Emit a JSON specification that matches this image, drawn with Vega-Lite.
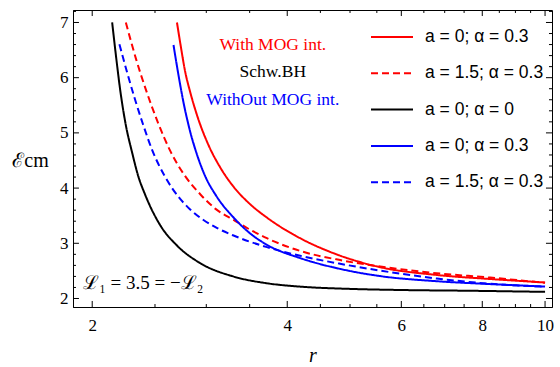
{
  "$schema": "https://vega.github.io/schema/vega-lite/v6.json",
  "width": 479,
  "height": 297,
  "autosize": {"type": "none"},
  "padding": {"left": 73, "top": 10, "right": 8, "bottom": 60},
  "background": "white",
  "config": {
    "view": {"stroke": "black", "strokeWidth": 1},
    "axis": {"grid": false, "domainColor": "black", "labelColor": "black", "titleColor": "black", "labelFont": "Liberation Serif", "labelFontSize": 17, "labelOverlap": false},
    "legend": {"orient": "none", "legendX": 297, "legendY": 5, "title": null, "symbolType": "stroke", "symbolSize": 1764, "symbolStrokeWidth": 2, "labelOffset": 11, "labelFont": "Liberation Sans", "labelFontSize": 17.5, "labelColor": "black", "rowPadding": 5.3}
  },
  "datasets": {
    "xticks": [
      {"t": 2, "kind": "major"}, {"t": 2.5, "kind": "minor"}, {"t": 3, "kind": "minor"}, {"t": 3.5, "kind": "minor"},
      {"t": 4, "kind": "major"}, {"t": 4.5, "kind": "minor"}, {"t": 5, "kind": "minor"}, {"t": 5.5, "kind": "minor"},
      {"t": 6, "kind": "major"}, {"t": 6.5, "kind": "minor"}, {"t": 7, "kind": "minor"}, {"t": 7.5, "kind": "minor"},
      {"t": 8, "kind": "major"}, {"t": 8.5, "kind": "minor"}, {"t": 9, "kind": "minor"}, {"t": 9.5, "kind": "minor"},
      {"t": 10, "kind": "major"}
    ],
    "yticks": [
      {"t": 2, "kind": "major"}, {"t": 2.2, "kind": "minor"}, {"t": 2.4, "kind": "minor"}, {"t": 2.6, "kind": "minor"}, {"t": 2.8, "kind": "minor"},
      {"t": 3, "kind": "major"}, {"t": 3.2, "kind": "minor"}, {"t": 3.4, "kind": "minor"}, {"t": 3.6, "kind": "minor"}, {"t": 3.8, "kind": "minor"},
      {"t": 4, "kind": "major"}, {"t": 4.2, "kind": "minor"}, {"t": 4.4, "kind": "minor"}, {"t": 4.6, "kind": "minor"}, {"t": 4.8, "kind": "minor"},
      {"t": 5, "kind": "major"}, {"t": 5.2, "kind": "minor"}, {"t": 5.4, "kind": "minor"}, {"t": 5.6, "kind": "minor"}, {"t": 5.8, "kind": "minor"},
      {"t": 6, "kind": "major"}, {"t": 6.2, "kind": "minor"}, {"t": 6.4, "kind": "minor"}, {"t": 6.6, "kind": "minor"}, {"t": 6.8, "kind": "minor"},
      {"t": 7, "kind": "major"}, {"t": 7.2, "kind": "minor"}
    ],
    "curves": [
      {"series": "k0", "r": 2.147, "E": 7.0},
      {"series": "k0", "r": 2.178, "E": 6.36},
      {"series": "k0", "r": 2.209, "E": 5.78},
      {"series": "k0", "r": 2.253, "E": 5.15},
      {"series": "k0", "r": 2.303, "E": 4.66},
      {"series": "k0", "r": 2.355, "E": 4.22},
      {"series": "k0", "r": 2.414, "E": 3.88},
      {"series": "k0", "r": 2.546, "E": 3.33},
      {"series": "k0", "r": 2.703, "E": 2.96},
      {"series": "k0", "r": 2.936, "E": 2.64},
      {"series": "k0", "r": 3.301, "E": 2.4},
      {"series": "k0", "r": 3.725, "E": 2.275},
      {"series": "k0", "r": 4.188, "E": 2.215},
      {"series": "k0", "r": 5.0, "E": 2.174},
      {"series": "k0", "r": 5.974, "E": 2.154},
      {"series": "k0", "r": 7.66, "E": 2.14},
      {"series": "k0", "r": 10.0, "E": 2.12},

      {"series": "r15", "r": 2.254, "E": 7.0},
      {"series": "r15", "r": 2.338, "E": 6.332},
      {"series": "r15", "r": 2.429, "E": 5.73},
      {"series": "r15", "r": 2.528, "E": 5.178},
      {"series": "r15", "r": 2.638, "E": 4.678},
      {"series": "r15", "r": 2.783, "E": 4.216},
      {"series": "r15", "r": 2.936, "E": 3.889},
      {"series": "r15", "r": 3.108, "E": 3.614},
      {"series": "r15", "r": 3.305, "E": 3.426},
      {"series": "r15", "r": 3.506, "E": 3.245},
      {"series": "r15", "r": 3.721, "E": 3.092},
      {"series": "r15", "r": 4.188, "E": 2.862},
      {"series": "r15", "r": 4.827, "E": 2.696},
      {"series": "r15", "r": 5.566, "E": 2.58},
      {"series": "r15", "r": 6.806, "E": 2.457},
      {"series": "r15", "r": 8.227, "E": 2.379},
      {"series": "r15", "r": 10.0, "E": 2.284},

      {"series": "b15", "r": 2.203, "E": 6.605},
      {"series": "b15", "r": 2.265, "E": 6.089},
      {"series": "b15", "r": 2.33, "E": 5.596},
      {"series": "b15", "r": 2.397, "E": 5.147},
      {"series": "b15", "r": 2.472, "E": 4.705},
      {"series": "b15", "r": 2.593, "E": 4.199},
      {"series": "b15", "r": 2.734, "E": 3.804},
      {"series": "b15", "r": 2.833, "E": 3.614},
      {"series": "b15", "r": 2.97, "E": 3.422},
      {"series": "b15", "r": 3.119, "E": 3.274},
      {"series": "b15", "r": 3.305, "E": 3.141},
      {"series": "b15", "r": 3.506, "E": 3.027},
      {"series": "b15", "r": 3.721, "E": 2.931},
      {"series": "b15", "r": 4.188, "E": 2.774},
      {"series": "b15", "r": 4.827, "E": 2.629},
      {"series": "b15", "r": 5.566, "E": 2.505},
      {"series": "b15", "r": 6.806, "E": 2.362},
      {"series": "b15", "r": 8.227, "E": 2.266},
      {"series": "b15", "r": 10.0, "E": 2.216},

      {"series": "b0", "r": 2.67, "E": 6.592},
      {"series": "b0", "r": 2.716, "E": 6.065},
      {"series": "b0", "r": 2.766, "E": 5.556},
      {"series": "b0", "r": 2.833, "E": 5.022},
      {"series": "b0", "r": 2.902, "E": 4.609},
      {"series": "b0", "r": 2.988, "E": 4.217},
      {"series": "b0", "r": 3.108, "E": 3.859},
      {"series": "b0", "r": 3.305, "E": 3.467},
      {"series": "b0", "r": 3.506, "E": 3.179},
      {"series": "b0", "r": 3.721, "E": 2.973},
      {"series": "b0", "r": 4.188, "E": 2.732},
      {"series": "b0", "r": 4.827, "E": 2.536},
      {"series": "b0", "r": 5.566, "E": 2.406},
      {"series": "b0", "r": 6.806, "E": 2.313},
      {"series": "b0", "r": 8.227, "E": 2.261},
      {"series": "b0", "r": 10.0, "E": 2.216},

      {"series": "r0", "r": 2.703, "E": 7.0},
      {"series": "r0", "r": 2.741, "E": 6.556},
      {"series": "r0", "r": 2.783, "E": 6.109},
      {"series": "r0", "r": 2.833, "E": 5.741},
      {"series": "r0", "r": 2.902, "E": 5.324},
      {"series": "r0", "r": 3.024, "E": 4.777},
      {"series": "r0", "r": 3.152, "E": 4.375},
      {"series": "r0", "r": 3.305, "E": 4.025},
      {"series": "r0", "r": 3.506, "E": 3.708},
      {"series": "r0", "r": 3.721, "E": 3.466},
      {"series": "r0", "r": 4.188, "E": 3.092},
      {"series": "r0", "r": 4.714, "E": 2.821},
      {"series": "r0", "r": 5.566, "E": 2.567},
      {"series": "r0", "r": 6.806, "E": 2.426},
      {"series": "r0", "r": 8.227, "E": 2.353},
      {"series": "r0", "r": 10.0, "E": 2.29}
    ]
  },
  "layer": [
    {
      "data": {"name": "curves"},
      "mark": {"type": "line", "strokeWidth": 2, "interpolate": "monotone"},
      "encoding": {
        "x": {
          "field": "r", "type": "quantitative",
          "scale": {"type": "log", "domain": [1.868, 10.25], "nice": false, "zero": false},
          "axis": {
            "orient": "bottom",
            "values": [2, 4, 6, 8, 10],
            "labelExpr": "'' + datum.value",
            "ticks": false,
            "labelPadding": 10,
            "title": "r",
            "titleFont": "Liberation Serif",
            "titleFontStyle": "italic",
            "titleFontWeight": "normal",
            "titleFontSize": 20,
            "titleBaseline": "middle",
            "titleY": 48
          }
        },
        "y": {
          "field": "E", "type": "quantitative",
          "scale": {"domain": [1.846, 7.226], "nice": false, "zero": false},
          "axis": {
            "orient": "left",
            "values": [2, 3, 4, 5, 6, 7],
            "labelExpr": "'' + datum.value",
            "ticks": false,
            "labelPadding": 5,
            "title": "ℰcm",
            "titleAngle": 0,
            "titleFont": "Liberation Serif",
            "titleFontWeight": "normal",
            "titleFontSize": 20,
            "titleAlign": "center",
            "titleBaseline": "middle",
            "titleX": -43,
            "titleY": 150
          }
        },
        "color": {
          "field": "series", "type": "nominal",
          "scale": {"domain": ["r0", "r15", "k0", "b0", "b15"], "range": ["#ff0000", "#ff0000", "#000000", "#0000ff", "#0000ff"]},
          "legend": {"labelExpr": "datum.label == 'r0' ? 'a = 0; α = 0.3' : datum.label == 'r15' ? 'a = 1.5; α = 0.3' : datum.label == 'k0' ? 'a = 0; α = 0' : datum.label == 'b0' ? 'a = 0; α = 0.3' : 'a = 1.5; α = 0.3'"}
        },
        "strokeDash": {
          "field": "series", "type": "nominal",
          "scale": {"domain": ["r0", "r15", "k0", "b0", "b15"], "range": [[1, 0], [7, 4], [1, 0], [1, 0], [7, 4]]},
          "legend": {"labelExpr": "datum.label == 'r0' ? 'a = 0; α = 0.3' : datum.label == 'r15' ? 'a = 1.5; α = 0.3' : datum.label == 'k0' ? 'a = 0; α = 0' : datum.label == 'b0' ? 'a = 0; α = 0.3' : 'a = 1.5; α = 0.3'"}
        }
      }
    },
    {
      "data": {"name": "xticks"},
      "transform": [{"filter": "datum.kind == 'major'"}],
      "mark": {"type": "rule", "color": "black", "strokeWidth": 1},
      "encoding": {
        "x": {"field": "t", "type": "quantitative", "axis": null},
        "y": {"datum": 1.846, "type": "quantitative", "axis": null},
        "y2": {"datum": 1.955}
      }
    },
    {
      "data": {"name": "xticks"},
      "transform": [{"filter": "datum.kind == 'minor'"}],
      "mark": {"type": "rule", "color": "black", "strokeWidth": 1},
      "encoding": {
        "x": {"field": "t", "type": "quantitative", "axis": null},
        "y": {"datum": 1.846, "type": "quantitative", "axis": null},
        "y2": {"datum": 1.9}
      }
    },
    {
      "data": {"name": "xticks"},
      "transform": [{"filter": "datum.kind == 'major'"}],
      "mark": {"type": "rule", "color": "black", "strokeWidth": 1},
      "encoding": {
        "x": {"field": "t", "type": "quantitative", "axis": null},
        "y": {"datum": 7.226, "type": "quantitative", "axis": null},
        "y2": {"datum": 7.117}
      }
    },
    {
      "data": {"name": "xticks"},
      "transform": [{"filter": "datum.kind == 'minor'"}],
      "mark": {"type": "rule", "color": "black", "strokeWidth": 1},
      "encoding": {
        "x": {"field": "t", "type": "quantitative", "axis": null},
        "y": {"datum": 7.226, "type": "quantitative", "axis": null},
        "y2": {"datum": 7.172}
      }
    },
    {
      "data": {"name": "yticks"},
      "transform": [{"filter": "datum.kind == 'major'"}],
      "mark": {"type": "rule", "color": "black", "strokeWidth": 1},
      "encoding": {
        "y": {"field": "t", "type": "quantitative", "axis": null},
        "x": {"datum": 1.868, "type": "quantitative", "axis": null},
        "x2": {"datum": 1.908}
      }
    },
    {
      "data": {"name": "yticks"},
      "transform": [{"filter": "datum.kind == 'minor'"}],
      "mark": {"type": "rule", "color": "black", "strokeWidth": 1},
      "encoding": {
        "y": {"field": "t", "type": "quantitative", "axis": null},
        "x": {"datum": 1.868, "type": "quantitative", "axis": null},
        "x2": {"datum": 1.888}
      }
    },
    {
      "data": {"name": "yticks"},
      "transform": [{"filter": "datum.kind == 'major'"}],
      "mark": {"type": "rule", "color": "black", "strokeWidth": 1},
      "encoding": {
        "y": {"field": "t", "type": "quantitative", "axis": null},
        "x": {"datum": 10.25, "type": "quantitative", "axis": null},
        "x2": {"datum": 10.033}
      }
    },
    {
      "data": {"name": "yticks"},
      "transform": [{"filter": "datum.kind == 'minor'"}],
      "mark": {"type": "rule", "color": "black", "strokeWidth": 1},
      "encoding": {
        "y": {"field": "t", "type": "quantitative", "axis": null},
        "x": {"datum": 10.25, "type": "quantitative", "axis": null},
        "x2": {"datum": 10.141}
      }
    },
    {
      "data": {"values": [{}]},
      "mark": {"type": "text", "text": "With MOG int.", "color": "#ff0000", "font": "Liberation Serif", "fontSize": 17.5, "align": "center", "baseline": "middle"},
      "encoding": {
        "x": {"datum": 3.8, "type": "quantitative", "axis": null},
        "y": {"datum": 6.59, "type": "quantitative", "axis": null}
      }
    },
    {
      "data": {"values": [{}]},
      "mark": {"type": "text", "text": "Schw.BH", "color": "#000000", "font": "Liberation Serif", "fontSize": 17.5, "align": "center", "baseline": "middle"},
      "encoding": {
        "x": {"datum": 3.8, "type": "quantitative", "axis": null},
        "y": {"datum": 6.11, "type": "quantitative", "axis": null}
      }
    },
    {
      "data": {"values": [{}]},
      "mark": {"type": "text", "text": "WithOut MOG int.", "color": "#0000ff", "font": "Liberation Serif", "fontSize": 17.5, "align": "center", "baseline": "middle"},
      "encoding": {
        "x": {"datum": 3.8, "type": "quantitative", "axis": null},
        "y": {"datum": 5.6, "type": "quantitative", "axis": null}
      }
    },
    {
      "data": {"values": [{}]},
      "mark": {"type": "text", "text": "ℒ₁ = 3.5 = −ℒ₂", "color": "#000000", "font": "Liberation Serif", "fontSize": 19, "align": "left", "baseline": "middle"},
      "encoding": {
        "x": {"datum": 1.937, "type": "quantitative", "axis": null},
        "y": {"datum": 2.28, "type": "quantitative", "axis": null}
      }
    }
  ],
  "resolve": {"axis": {"x": "independent", "y": "independent"}}
}
